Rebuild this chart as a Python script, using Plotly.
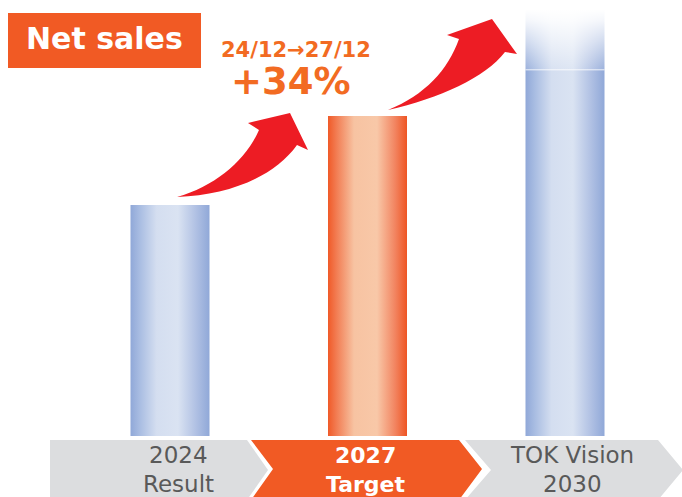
import plotly.graph_objects as go

# ---------------- data ----------------
categories = ["2024 Result", "2027 Target", "TOK Vision 2030"]
label_line1 = ["2024", "2027", "TOK Vision"]
label_line2 = ["Result", "Target", "2030"]
net_sales = [200, 277, 317]          # bar heights (arbitrary units)
vision_fade = [0, 0, 56]             # faded "open-ended" extension on top of the 2030 bar
title_text = "Net sales"
growth_period = "24/12→27/12"
growth_rate = "+34%"

# ---------------- styles ----------------
W, H = 682, 497
BAR_HALF = 0.2
BLUE_SCALE = [[0, "#90a8d8"], [0.12, "#a9bde2"], [0.33, "#d4def0"], [0.6, "#dae3f2"],
              [0.82, "#b2c2e4"], [1, "#90a8d8"]]
ORANGE_SCALE = [[0, "#f05a28"], [0.1, "#f27a50"], [0.33, "#f7c3a2"], [0.62, "#f8c8a8"],
                [0.85, "#f28460"], [1, "#ee5524"]]
FADE_SCALE = [[0, "rgba(255,255,255,0.1)"], [0.5, "rgba(255,255,255,0.6)"],
              [0.82, "rgba(255,255,255,0.9)"], [1, "rgba(255,255,255,1)"]]
ORANGE = "#f15a24"
GREY = "#dcdddf"
TEXT_ORANGE = "#f26b22"
ARROW_RED = "#ed1c24"

fig = go.Figure()

def rect_xy(i, y0, y1, half=BAR_HALF):
    return ([i - half, i + half, i + half, i - half, i - half],
            [y0, y0, y1, y1, y0])

for i, v in enumerate(net_sales):
    xs, ys = rect_xy(i, 0, v)
    fig.add_trace(go.Scatter(
        x=xs, y=ys, mode="lines", line=dict(width=0), fill="toself",
        fillgradient=dict(type="horizontal",
                          colorscale=ORANGE_SCALE if i == 1 else BLUE_SCALE),
        hoverinfo="skip", showlegend=False))

for i, ext in enumerate(vision_fade):
    if ext <= 0:
        continue
    base = net_sales[i]
    xs, ys = rect_xy(i, base, base + ext * 0.93)
    fig.add_trace(go.Scatter(
        x=xs, y=ys, mode="lines", line=dict(width=0), fill="toself",
        fillgradient=dict(type="horizontal", colorscale=BLUE_SCALE),
        hoverinfo="skip", showlegend=False))
    xs, ys = rect_xy(i, base, base + ext, half=BAR_HALF + 0.006)
    fig.add_trace(go.Scatter(
        x=xs, y=ys, mode="lines", line=dict(width=0), fill="toself",
        fillgradient=dict(type="vertical", colorscale=FADE_SCALE,
                          start=base, stop=base + ext * 0.93),
        hoverinfo="skip", showlegend=False))
    fig.add_trace(go.Scatter(
        x=[i - BAR_HALF, i + BAR_HALF], y=[base, base], mode="lines",
        line=dict(width=1, color="rgba(255,255,255,0.75)"),
        hoverinfo="skip", showlegend=False))

# ---------------- helpers for decorative shapes (pixel -> paper) ----------------
def P(x, y):
    return f"{x / W:.5f},{1 - y / H:.5f}"

def poly(pts):
    return "M " + " L ".join(P(x, y) for x, y in pts) + " Z"

shapes = []
# chevrons
chev = [
    (poly([(50, 440), (247, 440), (268, 470), (247, 500), (50, 500)]), GREY),
    (poly([(465, 440), (658, 440), (683, 470), (658, 500), (465, 500), (491, 470)]), GREY),
    (poly([(251, 440), (459, 440), (482, 469), (459, 500), (251, 500), (273, 469)]), ORANGE),
]
for path, col in chev:
    shapes.append(dict(type="path", xref="paper", yref="paper", path=path,
                       fillcolor=col, line=dict(width=0), layer="above"))

# title box
shapes.append(dict(type="rect", xref="paper", yref="paper",
                   x0=8 / W, x1=201 / W, y0=1 - 68 / H, y1=1 - 13 / H,
                   fillcolor=ORANGE, line=dict(width=0), layer="above"))

# curved arrows
arrow1 = (f"M {P(177,197)} C {P(230,195)} {P(275,176)} {P(297,145)} "
          f"L {P(308,150)} L {P(290,113)} L {P(248,123)} L {P(259,130)} "
          f"C {P(246,160)} {P(216,186)} {P(177,197)} Z")
arrow2 = (f"M {P(388,110)} C {P(440,98)} {P(485,78)} {P(505,52)} "
          f"L {P(517,54)} L {P(492,19)} L {P(447,35)} L {P(459,39)} "
          f"C {P(448,70)} {P(425,95)} {P(388,110)} Z")
for a in (arrow1, arrow2):
    shapes.append(dict(type="path", xref="paper", yref="paper", path=a,
                       fillcolor=ARROW_RED, line=dict(width=0), layer="above"))

annotations = []
FONT = "DejaVu Sans"
label_shift = [8, -2, 7]
for i in range(len(categories)):
    hi = i == 1
    col = "white" if hi else "#595959"
    t1 = f"<b>{label_line1[i]}</b>" if hi else label_line1[i]
    t2 = f"<b>{label_line2[i]}</b>" if hi else label_line2[i]
    annotations.append(dict(x=i, y=1 - 455 / H, xref="x", yref="paper", text=t1,
                            showarrow=False, xshift=label_shift[i],
                            font=dict(family=FONT, size=23 if not hi else 22, color=col),
                            xanchor="center", yanchor="middle"))
    annotations.append(dict(x=i, y=1 - 484 / H, xref="x", yref="paper", text=t2,
                            showarrow=False, xshift=label_shift[i],
                            font=dict(family=FONT, size=23 if not hi else 22, color=col),
                            xanchor="center", yanchor="middle"))

annotations.append(dict(x=104.5 / W, y=1 - 39 / H, xref="paper", yref="paper",
                        text=f"<b>{title_text}</b>", showarrow=False,
                        font=dict(family=FONT, size=30, color="white"),
                        xanchor="center", yanchor="middle"))
annotations.append(dict(x=296 / W, y=1 - 50 / H, xref="paper", yref="paper",
                        text=f"<b>{growth_period}</b>", showarrow=False,
                        font=dict(family=FONT, size=21, color=TEXT_ORANGE),
                        xanchor="center", yanchor="middle"))
annotations.append(dict(x=291 / W, y=1 - 82 / H, xref="paper", yref="paper",
                        text=f"<b>{growth_rate}</b>", showarrow=False,
                        font=dict(family=FONT, size=37, color=TEXT_ORANGE),
                        xanchor="center", yanchor="middle"))

# axes mapping: category centres at ~170 / ~367 / ~565 px, baseline at 436 px
px_per_cat = (565 - 170) / 2
x_lo = 170 - 0.5 * px_per_cat
x_hi = 565 + 0.5 * px_per_cat
y_px_per_unit = (436 - 205) / net_sales[0]
y_top = 436 / y_px_per_unit

fig.update_layout(
    width=W, height=H,
    margin=dict(l=0, r=0, t=0, b=0),
    paper_bgcolor="white", plot_bgcolor="white",
    showlegend=False,
    xaxis=dict(range=[-0.5, 2.5], domain=[x_lo / W, x_hi / W], visible=False,
               fixedrange=True),
    yaxis=dict(range=[0, y_top], domain=[1 - 436 / H, 1], visible=False,
               fixedrange=True),
    shapes=shapes,
    annotations=annotations,
)

fig.write_html("out.html", config={"displayModeBar": False},
               post_script="document.body.style.margin='0';"
                           "document.body.style.overflow='hidden';")
